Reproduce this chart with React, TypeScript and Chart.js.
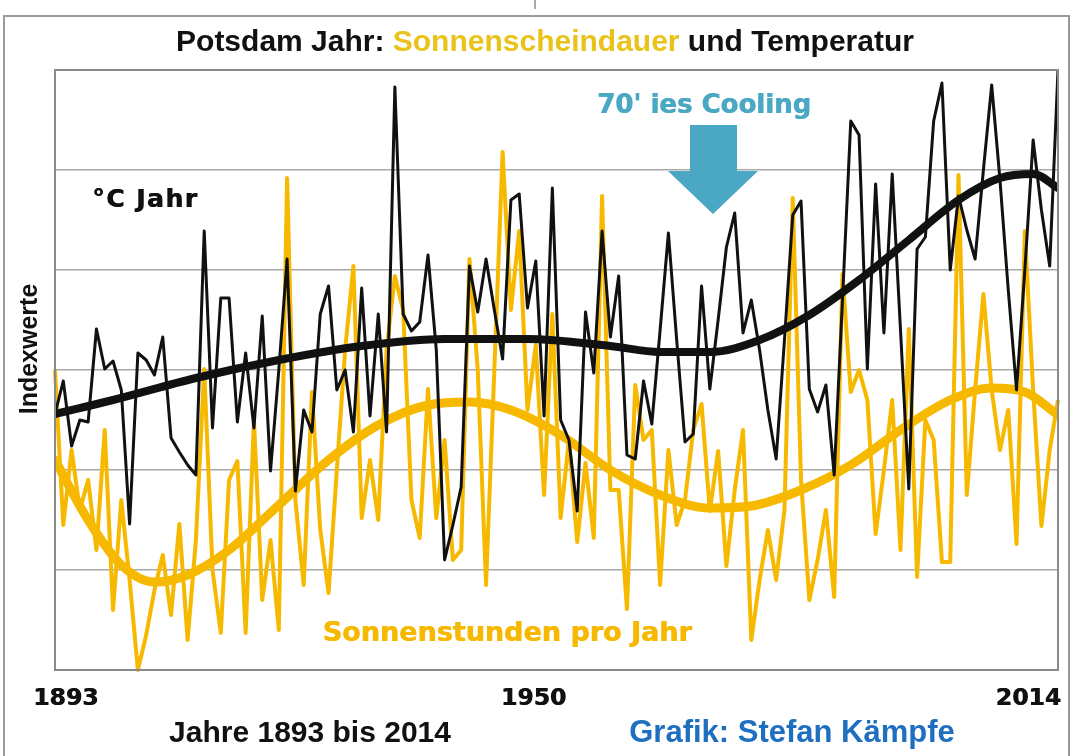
import React, { useEffect, useRef } from 'react';
import { Chart, registerables } from 'chart.js';

Chart.register(...registerables);

// ---------- data (index values, 0..6 scale) ----------
const firstYear = 1893;
const xTickYears = [1893, 1950, 2014];

const temperatureIndex = [
  2.56, 2.89, 2.24, 2.5, 2.48, 3.41, 3.01, 3.09, 2.8, 1.46,
  3.17, 3.1, 2.95, 3.33, 2.32, 2.18, 2.05, 1.95, 4.39, 2.42,
  3.72, 3.72, 2.48, 3.17, 2.42, 3.54, 1.99, 3.0, 4.11, 1.79,
  2.6, 2.38, 3.56, 3.84, 2.8, 3.0, 2.38, 3.82, 2.54, 3.56,
  2.38, 5.83, 3.56, 3.39, 3.48, 4.15, 3.2, 1.1, 1.45, 1.83,
  4.04, 3.58, 4.11, 3.6, 3.11, 4.7, 4.76, 3.62, 4.09, 2.54,
  4.82, 2.5, 2.3, 1.59, 3.58, 2.97, 4.39, 3.33, 3.94, 2.15,
  2.11, 2.89, 2.46, 3.4, 4.37, 3.3, 2.28, 2.36, 3.84, 2.81,
  3.5, 4.23, 4.57, 3.37, 3.7, 3.2, 2.6, 2.11, 3.3, 4.55,
  4.69, 2.81, 2.58, 2.85, 1.95, 3.7, 5.49, 5.35, 3.01, 4.86,
  3.37, 4.96, 3.4, 1.81, 4.21, 4.33, 5.49, 5.87, 4.0, 4.74,
  4.4, 4.11, 5.0, 5.85, 4.9, 3.8, 2.8, 4.0, 5.3, 4.6,
  4.04, 6.0,
];

const sunshineIndex = [
  3.0, 1.45, 2.2, 1.6, 1.9, 1.2, 2.4, 0.6, 1.7, 0.9,
  0.0, 0.35, 0.8, 1.15, 0.55, 1.46, 0.3, 1.3, 3.01, 1.0,
  0.37, 1.9, 2.09, 0.37, 2.5, 0.7, 1.3, 0.4, 4.92, 1.7,
  0.85, 2.78, 1.4, 0.77, 2.0, 3.2, 4.04, 1.52, 2.1, 1.5,
  3.2, 3.94, 3.6, 1.7, 1.32, 2.81, 1.52, 2.3, 1.1, 1.2,
  4.11, 3.0, 0.85, 3.0, 5.18, 3.6, 4.39, 2.6, 3.25, 1.75,
  3.56, 1.52, 2.3, 1.28, 2.07, 1.32, 4.74, 1.8, 1.8, 0.61,
  2.85, 2.3, 2.4, 0.85, 2.2, 1.45, 1.7, 2.4, 2.66, 1.59,
  2.19, 1.04, 1.8, 2.4, 0.3, 0.9, 1.4, 0.9, 1.6, 4.72,
  1.9, 0.7, 1.1, 1.6, 0.73, 3.96, 2.78, 3.0, 2.7, 1.36,
  2.0, 2.7, 1.2, 3.41, 0.93, 2.5, 2.3, 1.08, 1.08, 4.95,
  1.75, 2.8, 3.76, 2.8, 2.2, 2.6, 1.26, 4.39, 2.8, 1.44,
  2.2, 2.7,
];

const temperatureTrendYears = [1893, 1900, 1910, 1920, 1930, 1940, 1950, 1960, 1966, 1972, 1978, 1984, 1990, 1996, 2002, 2007, 2011, 2014];
const temperatureTrendValues = [2.56, 2.7, 2.92, 3.1, 3.24, 3.31, 3.31, 3.24, 3.18, 3.18, 3.3, 3.55, 3.9, 4.3, 4.7, 4.92, 4.96, 4.82];

const sunshineTrendYears = [1893, 1897, 1901, 1905, 1909, 1914, 1920, 1926, 1932, 1938, 1943, 1948, 1954, 1960, 1966, 1972, 1977, 1983, 1989, 1995, 2001, 2006, 2010, 2014];
const sunshineTrendValues = [2.1, 1.5, 1.05, 0.88, 0.95, 1.2, 1.65, 2.1, 2.45, 2.65, 2.68, 2.6, 2.35, 2.0, 1.75, 1.62, 1.64, 1.8, 2.05, 2.4, 2.7, 2.82, 2.78, 2.55];

const years = temperatureIndex.map((_, i) => firstYear + i);

// ---------- colours ----------
const BLACK = '#111111';
const YELLOW = '#F7B900';
const TITLE_YELLOW = '#E9C31A';
const TEAL = '#4AA8C4';
const BLUE = '#1E6FC0';
const GRID = '#a8a8a8';

const HEAVY = "'DejaVu Sans', 'Noto Sans', sans-serif";
const ARIAL = "'Liberation Sans', Arial, sans-serif";

// slightly heavier text: two fills offset by a fraction of a pixel
function heavyText(ctx: any, text: string, x: number, y: number, color: string) {
  ctx.fillStyle = color;
  ctx.fillText(text, x, y);
  ctx.fillText(text, x + 0.7, y);
}

const decorPlugin = {
  id: 'decor',
  beforeDraw(chart: any) {
    const { ctx, width, height } = chart;
    ctx.save();
    ctx.fillStyle = '#ffffff';
    ctx.fillRect(0, 0, width, height);
    ctx.restore();
  },
  afterDraw(chart: any) {
    const { ctx, chartArea } = chart;
    const xs = chart.scales.x;
    ctx.save();

    // outer picture frame
    ctx.strokeStyle = '#9a9a9a';
    ctx.lineWidth = 2;
    ctx.beginPath();
    ctx.moveTo(4, 760);
    ctx.lineTo(4, 16);
    ctx.lineTo(1069, 16);
    ctx.lineTo(1069, 760);
    ctx.stroke();
    ctx.beginPath();
    ctx.moveTo(535, 0);
    ctx.lineTo(535, 9);
    ctx.strokeStyle = '#555';
    ctx.lineWidth = 1;
    ctx.stroke();

    // plot frame
    ctx.strokeStyle = '#8a8a8a';
    ctx.lineWidth = 2;
    ctx.strokeRect(chartArea.left, chartArea.top, chartArea.right - chartArea.left, chartArea.bottom - chartArea.top);

    // title with coloured part
    ctx.font = `bold 30px ${ARIAL}`;
    ctx.textBaseline = 'alphabetic';
    ctx.textAlign = 'left';
    const parts: [string, string][] = [
      ['Potsdam Jahr: ', BLACK],
      ['Sonnenscheindauer', TITLE_YELLOW],
      [' und Temperatur', BLACK],
    ];
    const total = parts.reduce((s, p) => s + ctx.measureText(p[0]).width, 0);
    let tx = 545 - total / 2;
    for (const [t, c] of parts) {
      ctx.fillStyle = c;
      ctx.fillText(t, tx, 51);
      tx += ctx.measureText(t).width;
    }

    // 70'ies cooling arrow
    ctx.fillStyle = TEAL;
    ctx.beginPath();
    ctx.moveTo(690, 125);
    ctx.lineTo(737, 125);
    ctx.lineTo(737, 171);
    ctx.lineTo(758, 171);
    ctx.lineTo(713, 214);
    ctx.lineTo(668, 171);
    ctx.lineTo(690, 171);
    ctx.closePath();
    ctx.fill();

    ctx.textAlign = 'center';
    ctx.font = `bold 26px ${HEAVY}`;
    heavyText(ctx, "70' ies Cooling", 704, 113, TEAL);

    // series labels
    ctx.textAlign = 'left';
    ctx.font = `bold 25px ${HEAVY}`;
    (ctx as any).letterSpacing = '1.5px';
    heavyText(ctx, '°C Jahr', 92, 207, BLACK);
    (ctx as any).letterSpacing = '0px';

    ctx.textAlign = 'center';
    ctx.font = `bold 27px ${HEAVY}`;
    heavyText(ctx, 'Sonnenstunden pro Jahr', 507, 641, YELLOW);

    // x tick labels at their years
    ctx.font = `bold 23.5px ${HEAVY}`;
    xTickYears.forEach((yr, i) => {
      const px = xs.getPixelForValue(yr);
      if (i === 0) {
        ctx.textAlign = 'left';
        heavyText(ctx, String(yr), px - 22, 705, BLACK);
      } else if (i === xTickYears.length - 1) {
        ctx.textAlign = 'right';
        heavyText(ctx, String(yr), px + 3, 705, BLACK);
      } else {
        ctx.textAlign = 'center';
        heavyText(ctx, String(yr), px + 6, 705, BLACK);
      }
    });

    // axis title
    ctx.save();
    ctx.translate(37, 349);
    ctx.rotate(-Math.PI / 2);
    ctx.textAlign = 'center';
    ctx.font = `bold 25px ${ARIAL}`;
    ctx.fillStyle = BLACK;
    ctx.fillText('Indexwerte', 0, 0);
    ctx.restore();

    // bottom captions
    ctx.textAlign = 'center';
    ctx.font = `bold 30px ${ARIAL}`;
    ctx.fillStyle = BLACK;
    ctx.fillText('Jahre 1893 bis 2014', 310, 742);
    ctx.fillStyle = BLUE;
    ctx.font = `bold 31px ${ARIAL}`;
    ctx.fillText('Grafik: Stefan Kämpfe', 792, 742);

    ctx.restore();
  },
};

export default function App() {
  const ref = useRef<HTMLCanvasElement | null>(null);

  useEffect(() => {
    const canvas = ref.current;
    if (!canvas) return;
    const chart = new Chart(canvas, {
      type: 'line',
      data: {
        datasets: [
          {
            label: 'Temperatur Trend',
            data: temperatureTrendYears.map((x, i) => ({ x, y: temperatureTrendValues[i] })),
            borderColor: BLACK,
            borderWidth: 8,
            cubicInterpolationMode: 'monotone',
            borderCapStyle: 'round',
            borderJoinStyle: 'round',
            pointRadius: 0,
          },
          {
            label: '°C Jahr',
            data: years.map((x, i) => ({ x, y: temperatureIndex[i] })),
            borderColor: BLACK,
            borderWidth: 3,
            borderJoinStyle: 'round',
            pointRadius: 0,
            tension: 0,
          },
          {
            label: 'Sonnenstunden Trend',
            data: sunshineTrendYears.map((x, i) => ({ x, y: sunshineTrendValues[i] })),
            borderColor: YELLOW,
            borderWidth: 9,
            cubicInterpolationMode: 'monotone',
            borderCapStyle: 'round',
            borderJoinStyle: 'round',
            pointRadius: 0,
          },
          {
            label: 'Sonnenstunden pro Jahr',
            data: years.map((x, i) => ({ x, y: sunshineIndex[i] })),
            borderColor: YELLOW,
            borderWidth: 4,
            borderJoinStyle: 'round',
            pointRadius: 0,
            tension: 0,
            clip: false,
          },
        ],
      } as any,
      options: {
        responsive: false,
        animation: false,
        layout: { padding: { left: 0, right: 16, top: 70, bottom: 0 } },
        plugins: {
          legend: { display: false },
          tooltip: { enabled: false },
          title: { display: false },
        },
        scales: {
          x: {
            type: 'linear',
            min: 1893,
            max: 2014,
            grid: { display: false, drawTicks: false },
            border: { display: false },
            ticks: { display: false },
            afterFit: (s: any) => { s.height = 86; },
          },
          y: {
            min: 0,
            max: 6,
            ticks: { display: false, stepSize: 1 },
            grid: { color: GRID, lineWidth: 1.5, drawTicks: false },
            border: { display: false },
            afterFit: (s: any) => { s.width = 55; },
          },
        },
      } as any,
      plugins: [decorPlugin],
    });
    return () => chart.destroy();
  }, []);

  return (
    <div style={{ position: 'absolute', left: 0, top: 0, width: 1074, height: 756, background: '#fff' }}>
      <canvas ref={ref} width={1074} height={756} style={{ display: 'block' }} />
    </div>
  );
}
